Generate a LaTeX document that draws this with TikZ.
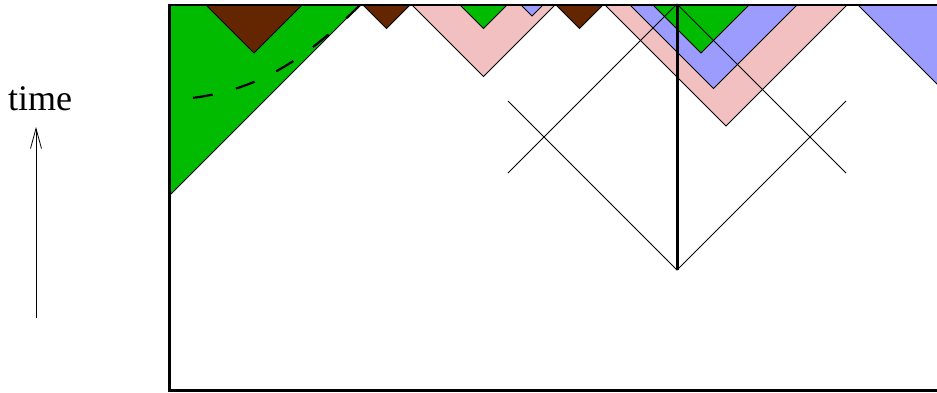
\documentclass[tikz,border=0pt]{standalone}
\usepackage{fontspec}
\setmainfont{Liberation Serif}
\usetikzlibrary{arrows.meta}
\definecolor{regiongreen}{RGB}{0,187,0}
\definecolor{regionbrown}{RGB}{99,38,0}
\definecolor{regionpink}{RGB}{242,192,192}
\definecolor{regionblue}{RGB}{156,156,255}

\begin{document}
\begin{tikzpicture}[x=1pt, y=-1pt,
    patch/.style={draw=black, line width=0.8pt, line join=miter},
    greenpatch/.style={patch, fill=regiongreen},
    brownpatch/.style={patch, fill=regionbrown},
    pinkpatch/.style={patch, fill=regionpink},
    bluepatch/.style={patch, fill=regionblue},
    cone/.style={line width=0.8pt},
    wall/.style={line width=3pt}]
  \useasboundingbox (0,0) rectangle (937,392);
  \clip (0,0) rectangle (937,392);

  % Zeitachse
  \node[anchor=base, inner sep=0pt, font=\fontsize{36}{40}\selectfont] (time) at (40,110) {time};
  \coordinate (tail) at (36,318);
  \coordinate (head) at (36,127);
  \draw[line width=0.8pt, -{Straight Barb[length=20pt,width=11pt]}] (tail) -- (head);

  % Linker Bereich
  \path[greenpatch] (169,5) -- (360,5) -- (169,196) -- cycle;
  \path[brownpatch] (206,5) -- (302,5) -- (254,53) -- cycle;
  \draw[line width=2.2pt, dash pattern=on 20pt off 24pt, dash phase=20pt]
    (169,100) .. controls (249,96) and (300,65) .. (360,5);
  \path[brownpatch] (363,5) -- (410,5) -- (386.5,28.5) -- cycle;

  % Mittlerer Bereich
  \path[pinkpatch] (412,5) -- (555,5) -- (483.5,76.5) -- cycle;
  \path[greenpatch] (460,5) -- (507,5) -- (483.5,28.5) -- cycle;
  \path[bluepatch] (521,5) -- (543,5) -- (532,16) -- cycle;
  \path[brownpatch] (556,5) -- (603,5) -- (579.5,28.5) -- cycle;

  % Rechter Bereich
  \path[pinkpatch] (605,5) -- (847,5) -- (726,126) -- cycle;
  \path[bluepatch] (630,5) -- (797,5) -- (713.5,88.5) -- cycle;
  \path[greenpatch] (653,5) -- (749,5) -- (701,53) -- cycle;
  \path[bluepatch] (858,5) -- (980,127) -- (980,5) -- cycle;

  % Rand
  \draw[line width=1.2pt] (169,5) -- (940,5);
  \draw[wall] (169,4) -- (169,390) -- (940,390);

  % Lichtkegel
  \coordinate (apex) at (677,270);
  \draw[wall] (677,5) -- (apex);
  \draw[cone] (508,101) -- (apex) -- (846,101);
  \draw[cone] (508,173) -- (677,4);
  \draw[cone] (846,173) -- (677,4);
\end{tikzpicture}
\end{document}
